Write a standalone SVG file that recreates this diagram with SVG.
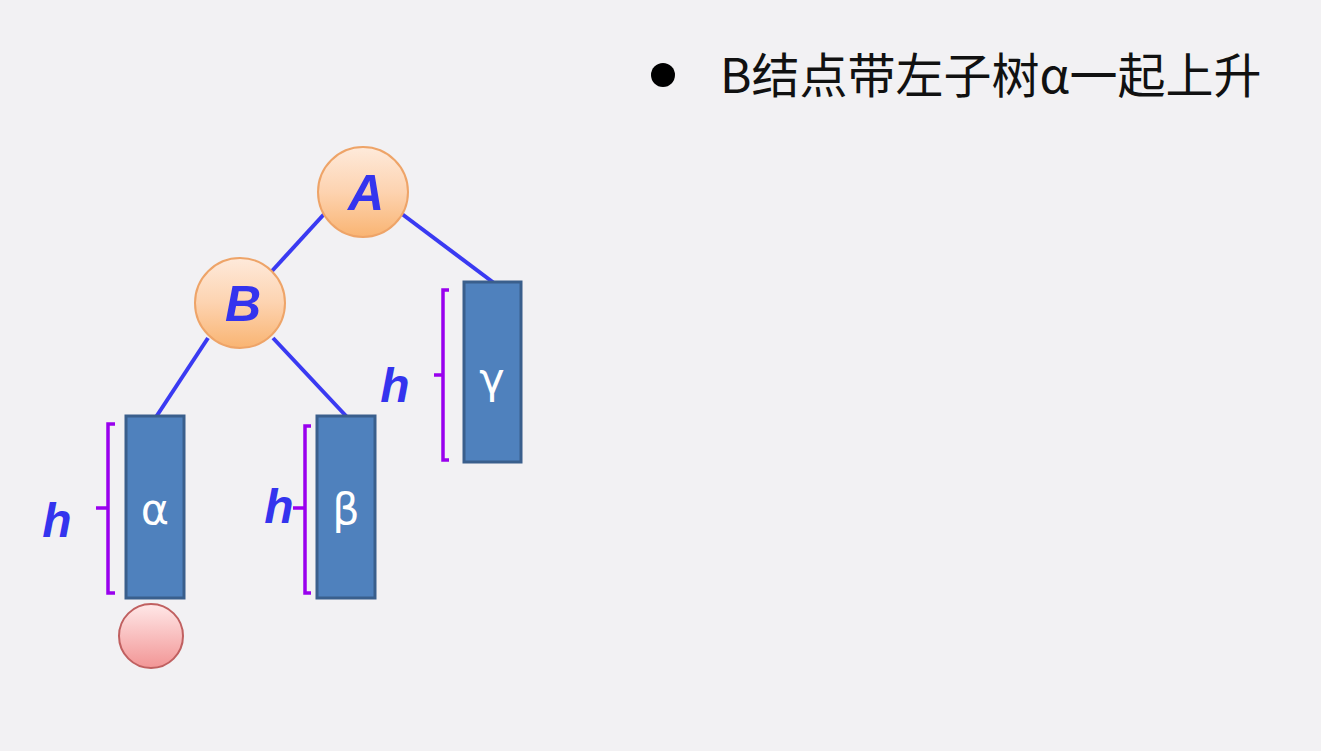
<svg xmlns="http://www.w3.org/2000/svg" width="1321" height="751" viewBox="0 0 1321 751">
<defs>
<linearGradient id="og" x1="0" y1="0" x2="0" y2="1">
<stop offset="0" stop-color="#feeadb"/><stop offset="0.5" stop-color="#fdd3b0"/><stop offset="1" stop-color="#f9b472"/>
</linearGradient>
<linearGradient id="pg" x1="0" y1="0" x2="0" y2="1">
<stop offset="0" stop-color="#ffe8e8"/><stop offset="1" stop-color="#f29595"/>
</linearGradient>
<style>
.edge{stroke:#3a3af2;stroke-width:4;fill:none}
.node{fill:url(#og);stroke:#eea468;stroke-width:2}
.lbl{font-family:"Liberation Sans",Arial,sans-serif;font-weight:bold;font-style:italic;fill:#3434ee;text-anchor:middle}
.sub{fill:#4f81bd;stroke:#3a5f8c;stroke-width:3}
.gk{font-family:"DejaVu Sans","Liberation Sans",sans-serif;fill:#ffffff;font-size:43px;text-anchor:middle}
.br{stroke:#9900ee;stroke-width:3.5;fill:none}
</style>
</defs>
<rect width="1321" height="751" fill="#f2f1f3"/>
<g id="connectors">
<line class="edge" x1="326" y1="212" x2="272" y2="271"/>
<line class="edge" x1="402" y1="214" x2="494" y2="283"/>
<line class="edge" x1="208" y1="338" x2="156" y2="417"/>
<line class="edge" x1="273" y1="338" x2="347" y2="417"/>
</g>
<g id="nodeA"><circle class="node" cx="363" cy="192" r="45"/><text class="lbl" x="366" y="210" font-size="50">A</text></g>
<g id="nodeB"><circle class="node" cx="240" cy="303" r="45"/><text class="lbl" x="243" y="321" font-size="50">B</text></g>
<g id="alpha"><rect class="sub" x="126" y="416" width="58" height="182"/><text class="gk" x="155" y="524">α</text></g>
<g id="beta"><rect class="sub" x="317" y="416" width="58" height="182"/><text class="gk" x="346" y="524">β</text></g>
<g id="gamma"><rect class="sub" x="464" y="282" width="57" height="180"/><text class="gk" x="492" y="393">γ</text></g>
<g id="newnode"><circle cx="151" cy="636" r="32" fill="url(#pg)" stroke="#c06060" stroke-width="2"/></g>
<g id="brackets">
<path class="br" d="M115,424 H108 V593 H115 M108,508 H96"/>
<path class="br" d="M311,426 H305 V593 H311 M305,508 H293"/>
<path class="br" d="M449,290 H443 V460 H449 M443,375 H434"/>
</g>
<g id="hlabels">
<text class="lbl" x="57" y="537" font-size="48">h</text>
<text class="lbl" x="279" y="523" font-size="48">h</text>
<text class="lbl" x="395" y="402" font-size="48">h</text>
</g>
<g id="bullet">
<circle cx="663" cy="75" r="12" fill="#000"/>
<text x="720" y="93" font-family="'Noto Sans CJK SC',sans-serif" font-size="48" fill="#111">B结点带左子树α一起上升</text>
</g>
</svg>
